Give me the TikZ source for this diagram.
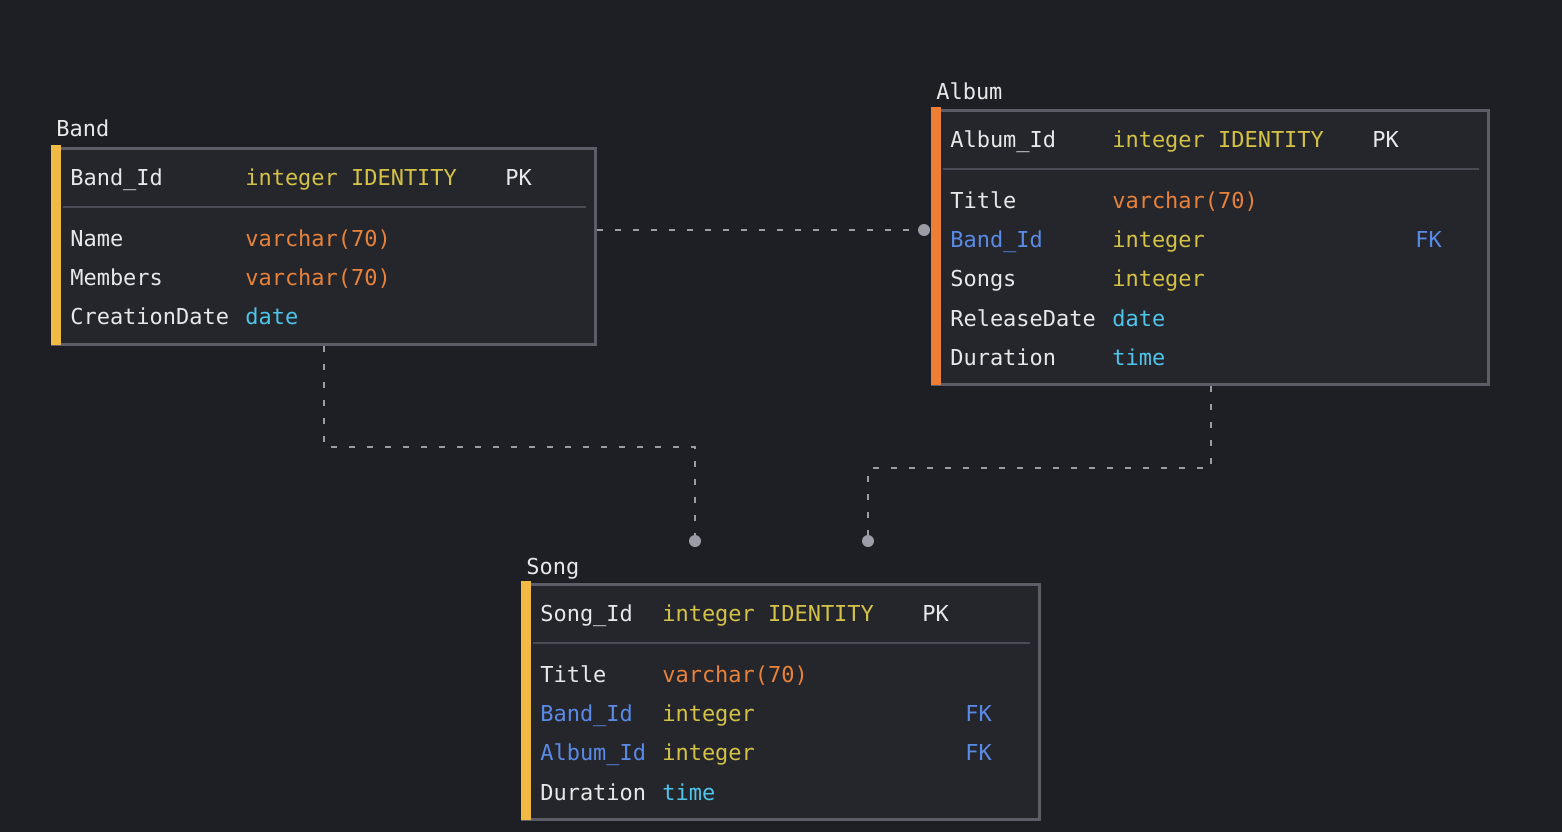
\documentclass[tikz,border=0pt]{standalone}
\usepackage{fontspec}
\setmonofont{DejaVu Sans Mono}
\definecolor{bgcol}{HTML}{1E1F24}
\definecolor{boxcol}{HTML}{25262C}
\definecolor{edgecol}{HTML}{5C5D67}
\definecolor{sepcol}{HTML}{4A4B55}
\definecolor{barYellow}{HTML}{F1BA45}
\definecolor{barOrange}{HTML}{EE7E34}
\definecolor{txtWhite}{HTML}{E8E8EA}
\definecolor{txtInt}{HTML}{D4C246}
\definecolor{txtChar}{HTML}{E8823A}
\definecolor{txtDate}{HTML}{4FC4E8}
\definecolor{txtKey}{HTML}{5A8AE6}
\definecolor{linkcol}{HTML}{9B9CA5}
\tikzset{
  tablebox/.style={draw=edgecol, fill=boxcol, line width=0.06cm, rectangle, inner sep=0pt},
  ttl/.style={anchor=base west, inner sep=0pt, text=txtWhite, font=\ttfamily\fontsize{12.5pt}{15pt}\selectfont},
  fname/.style={ttl},
  fkname/.style={ttl, text=txtKey},
  tint/.style={ttl, text=txtInt},
  tchar/.style={ttl, text=txtChar},
  tdate/.style={ttl, text=txtDate},
  seprule/.style={draw=sepcol, line width=0.04cm},
  link/.style={draw=linkcol, line width=0.04cm, dash pattern=on 0.12cm off 0.24cm},
  dot/.style={circle, fill=linkcol, inner sep=0pt, minimum size=0.24cm}
}
\begin{document}
\begin{tikzpicture}[x=0.02cm,y=-0.02cm]
    \useasboundingbox (0,0) rectangle (1562,832);
    \fill[bgcol] (0,0) rectangle (1562,832);
    % Band
    \node (bandT) [ttl] at (56,136) {Band};
    \node (band) [tablebox, minimum width=10.88cm, minimum height=3.94cm] at (324,246.5) {};
    \fill[barYellow] (band.north west) ++(0,-1.5) rectangle ++(10,200);
    \draw[seprule] (63,207) -- (586,207);
    \node (bandId) [fname] at (70,185) {Band\_Id};
    \node (bandIdT) [tint] at (245,185) {integer IDENTITY};
    \node (bandPK) [fname] at (505,185) {PK};
    \node (bandName) [fname] at (70,246) {Name};
    \node (bandNameT) [tchar] at (245,246) {varchar(70)};
    \node (bandMem) [fname] at (70,285) {Members};
    \node (bandMemT) [tchar] at (245,285) {varchar(70)};
    \node (bandCD) [fname] at (70,324) {CreationDate};
    \node (bandCDT) [tdate] at (245,324) {date};
    % Album
    \node (albumT) [ttl] at (936,99) {Album};
    \node (album) [tablebox, minimum width=11.14cm, minimum height=5.5cm] at (1210.5,247.5) {};
    \fill[barOrange] (album.north west) ++(0,-1.5) rectangle ++(10,278);
    \draw[seprule] (943,169) -- (1479,169);
    \node (albumId) [fname] at (950,147) {Album\_Id};
    \node (albumIdT) [tint] at (1112,147) {integer IDENTITY};
    \node (albumPK) [fname] at (1372,147) {PK};
    \node (albumTit) [fname] at (950,208) {Title};
    \node (albumTitT) [tchar] at (1112,208) {varchar(70)};
    \node (albumBand) [fkname] at (950,247) {Band\_Id};
    \node (albumBandT) [tint] at (1112,247) {integer};
    \node (albumFK) [fkname] at (1415,247) {FK};
    \node (albumSongs) [fname] at (950,286) {Songs};
    \node (albumSongsT) [tint] at (1112,286) {integer};
    \node (albumRD) [fname] at (950,326) {ReleaseDate};
    \node (albumRDT) [tdate] at (1112,326) {date};
    \node (albumDur) [fname] at (950,365) {Duration};
    \node (albumDurT) [tdate] at (1112,365) {time};
    % Song
    \node (songT) [ttl] at (526,574) {Song};
    \node (song) [tablebox, minimum width=10.36cm, minimum height=4.72cm] at (781,702) {};
    \fill[barYellow] (song.north west) ++(0,-1.5) rectangle ++(10,239);
    \draw[seprule] (533,643) -- (1030,643);
    \node (songId) [fname] at (540,621) {Song\_Id};
    \node (songIdT) [tint] at (662,621) {integer IDENTITY};
    \node (songPK) [fname] at (922,621) {PK};
    \node (songTit) [fname] at (540,682) {Title};
    \node (songTitT) [tchar] at (662,682) {varchar(70)};
    \node (songBand) [fkname] at (540,721) {Band\_Id};
    \node (songBandT) [tint] at (662,721) {integer};
    \node (songBandFK) [fkname] at (965,721) {FK};
    \node (songAlb) [fkname] at (540,760) {Album\_Id};
    \node (songAlbT) [tint] at (662,760) {integer};
    \node (songAlbFK) [fkname] at (965,760) {FK};
    \node (songDur) [fname] at (540,800) {Duration};
    \node (songDurT) [tdate] at (662,800) {time};
    % links
    \node (dotAlbum) [dot] at (924,230) {};
    \node (dotSongBand) [dot] at (695,541) {};
    \node (dotSongAlbum) [dot] at (868,541) {};
    \draw[link] (band.east |- dotAlbum) -- (dotAlbum);
    \draw[link] (band.south) -- ++(0,101) -| (dotSongBand);
    \draw[link] (album.south) -- ++(0,82) -| (dotSongAlbum);
\end{tikzpicture}
\end{document}
